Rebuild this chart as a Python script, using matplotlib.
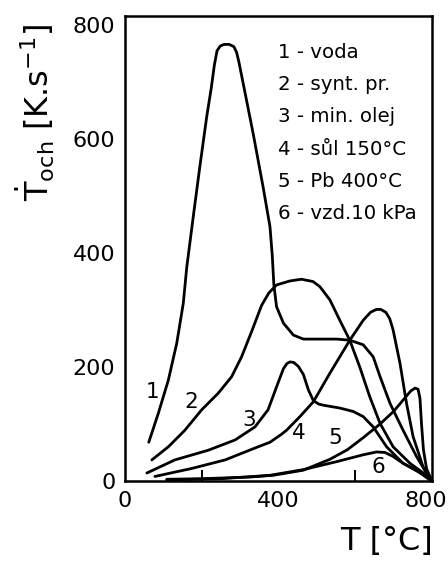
import matplotlib
matplotlib.use("Agg")
import matplotlib.pyplot as plt
from matplotlib.transforms import ScaledTranslation

plt.rcParams['font.family'] = ['DejaVu Sans']
plt.rcParams['mathtext.fontset'] = 'dejavusans'

# Curve data: T [°C] vs cooling rate [K/s]
c1_x = [62, 87, 113, 135, 152, 161, 178, 195, 213, 225, 233, 240, 248, 258, 272, 284, 291, 297, 308, 334, 360, 378, 384, 388, 395, 413, 439, 465, 508, 552, 586, 621, 647, 665, 691, 725, 760, 786, 800]
c1_y = [68, 119, 177, 242, 312, 375, 464, 551, 639, 690, 730, 755, 763, 766, 766, 762, 752, 735, 698, 610, 516, 446, 395, 345, 306, 277, 256, 249, 249, 249, 247, 239, 218, 183, 136, 89, 43, 14, 0]

c2_x = [70, 113, 156, 200, 243, 278, 304, 330, 356, 375, 395, 430, 460, 490, 508, 534, 560, 586, 612, 638, 665, 699, 743, 786, 800]
c2_y = [37, 60, 89, 125, 154, 183, 218, 262, 308, 330, 344, 351, 354, 350, 341, 318, 282, 247, 200, 148, 101, 60, 31, 10, 0]

c3_x = [57, 130, 217, 287, 339, 373, 395, 413, 422, 430, 440, 452, 465, 478, 491, 505, 517, 560, 595, 621, 647, 682, 725, 786, 800]
c3_y = [14, 37, 54, 72, 95, 125, 165, 197, 206, 209, 208, 201, 187, 160, 141, 135, 133, 128, 122, 113, 95, 60, 31, 8, 0]

c4_x = [78, 174, 261, 347, 378, 408, 421, 456, 491, 534, 586, 621, 640, 655, 667, 680, 690, 699, 717, 734, 751, 777, 800]
c4_y = [8, 22, 37, 60, 68, 82, 89, 113, 139, 189, 247, 282, 296, 301, 301, 296, 285, 265, 206, 136, 78, 25, 0]

c5_x = [109, 200, 326, 386, 465, 534, 580, 621, 665, 700, 725, 745, 756, 764, 769, 773, 778, 786, 800]
c5_y = [3, 4, 7, 10, 19, 38, 55, 76, 100, 122, 142, 158, 163, 161, 145, 100, 55, 22, 0]

c6_x = [109, 250, 378, 465, 552, 621, 656, 678, 699, 725, 760, 786, 800]
c6_y = [2, 4, 10, 20, 34, 46, 51, 50, 43, 31, 19, 6, 0]

curves = [(c1_x, c1_y), (c2_x, c2_y), (c3_x, c3_y), (c4_x, c4_y), (c5_x, c5_y), (c6_x, c6_y)]

curve_labels = ['1', '2', '3', '4', '5', '6']
curve_label_x = [71, 174, 323, 452, 547, 660]
curve_label_y = [157, 139, 107, 84, 75, 25]

legend_lines = ['1 - voda', '2 - synt. pr.', '3 - min. olej', '4 - sůl 150°C', '5 - Pb 400°C', '6 - vzd.10 kPa']
legend_y = [751, 695, 639, 581, 525, 470]

x_ticklabels = [0, 400, 800]
y_ticklabels = [0, 200, 400, 600, 800]
tick_marks = [200, 400, 600]

fig = plt.figure(figsize=(4.48, 5.61), dpi=100)
ax = fig.add_axes([0.279, 0.1426, 0.685, 0.829])

for xs, ys in curves:
    ax.plot(xs, ys, color='black', lw=2.0, solid_capstyle='round', solid_joinstyle='round')

for lab, lx, ly in zip(curve_labels, curve_label_x, curve_label_y):
    ax.text(lx, ly, lab, fontsize=15.5, ha='center', va='center')

for txt, ly in zip(legend_lines, legend_y):
    ax.text(399, ly, txt, fontsize=14.2, ha='left', va='center')

ax.set_xlim(0, 800)
ax.set_ylim(0, 816)
ax.set_xticks(x_ticklabels)
ax.set_xticklabels([str(v) for v in x_ticklabels])
ax.set_yticks(y_ticklabels)
ax.set_yticklabels([str(v) for v in y_ticklabels])
ax.set_xticks(tick_marks, minor=True)
ax.set_yticks(tick_marks, minor=True)
ax.tick_params(which='major', length=0, labelsize=16, pad=7)
ax.tick_params(which='minor', direction='in', length=8, width=1.4)
for s in ax.spines.values():
    s.set_linewidth(1.8)

# nudge the last x tick label inward so it stays inside the figure
lbls = ax.get_xticklabels()
lbls[-1].set_transform(lbls[-1].get_transform() + ScaledTranslation(-6 / 100, 0, fig.dpi_scale_trans))

fig.text(0.078, 0.80, r'$\dot{\mathrm{T}}_{\mathrm{och}}$ [K.s$^{-1}$]', rotation=90,
         fontsize=23, ha='center', va='center')
fig.text(0.862, 0.034, 'T [°C]', fontsize=23, ha='center', va='center')

fig.savefig('out.png', dpi=100)
